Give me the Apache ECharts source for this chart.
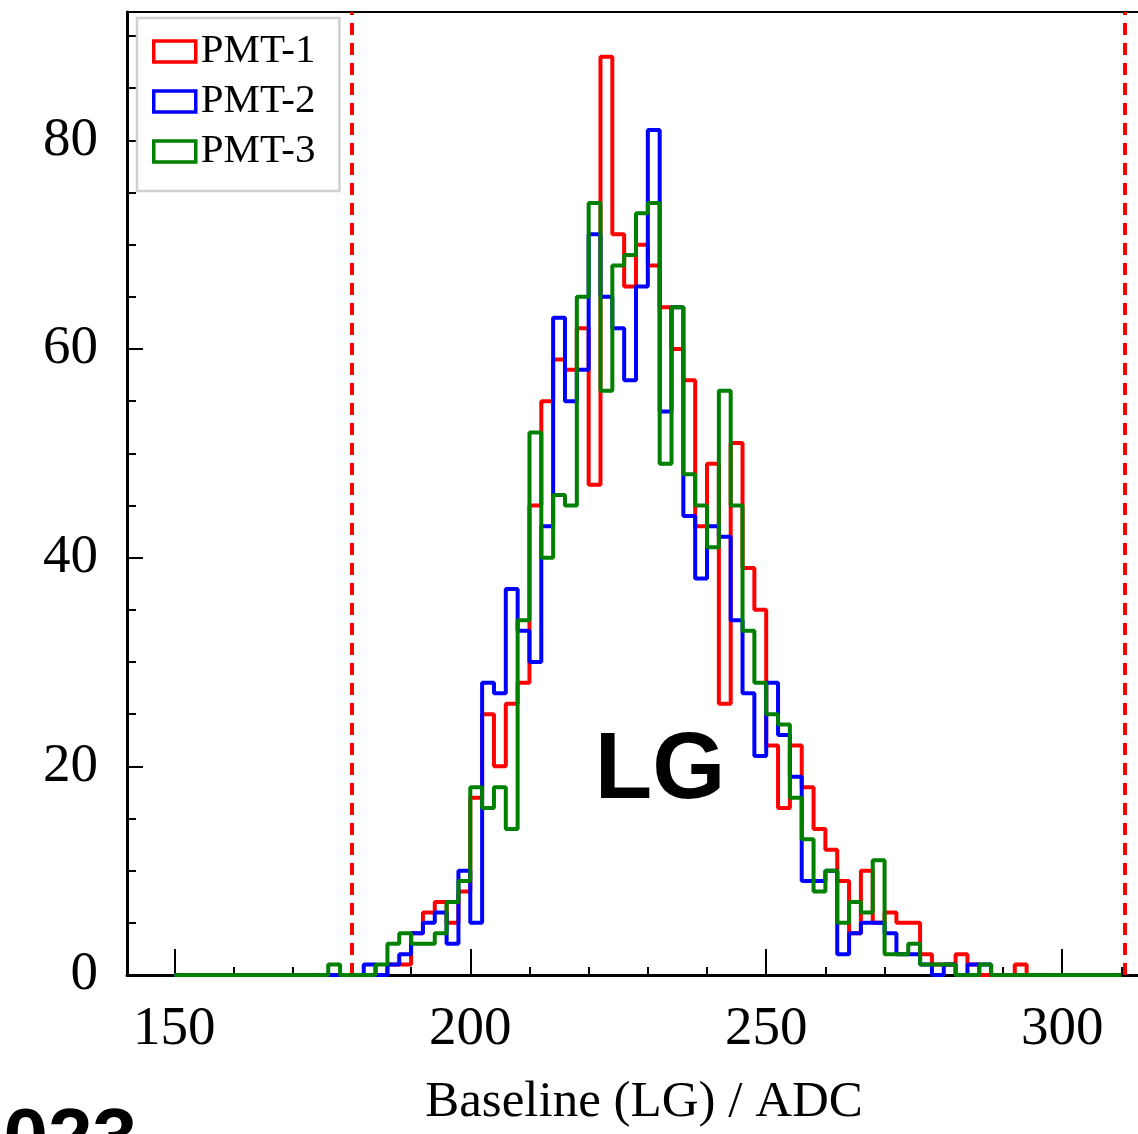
<!DOCTYPE html>
<html>
<head>
<meta charset="utf-8">
<script src="https://cdn.jsdelivr.net/npm/echarts@6/dist/echarts.min.js"></script>
<style>
html, body { margin: 0; padding: 0; background: #fff; }
#chart { width: 1138px; height: 1134px; }
</style>
</head>
<body>
<div id="chart"></div>
<script>
// histogram: 2 ADC wide bins, first listed bin starts at 176
var binWidth = 2
var firstBin = 176
var histRange = [150, 310]
var pmt1 = [0, 0, 0, 0, 0, 1, 1, 4, 6, 7, 5, 8, 17, 25, 20, 26, 28, 45, 55, 59,
  58, 62, 47, 88, 71, 66, 70, 68, 64, 60, 57, 43, 49, 26, 51, 39, 35, 22, 16, 22,
  18, 14, 12, 9, 4, 10, 5, 6, 5, 5, 2, 1, 1, 2, 1, 0, 0, 0, 1]
var pmt2 = [0, 0, 0, 1, 0, 1, 2, 4, 5, 6, 3, 10, 5, 28, 27, 37, 33, 30, 43, 63,
  55, 58, 71, 65, 62, 57, 66, 81, 54, 64, 44, 38, 43, 42, 34, 27, 21, 28, 23, 19,
  9, 9, 10, 2, 4, 5, 5, 4, 2, 2, 1, 0, 1, 0, 1, 1, 0, 0, 0]
var pmt3 = [1, 0, 0, 0, 1, 3, 4, 3, 3, 4, 7, 9, 18, 16, 18, 14, 34, 52, 40, 46,
  45, 65, 74, 56, 68, 69, 73, 74, 49, 64, 48, 45, 41, 56, 45, 33, 28, 25, 24, 17,
  13, 8, 10, 5, 7, 6, 11, 2, 2, 3, 1, 1, 1, 0, 0, 1, 0, 0, 0]
var seriesNames = ['PMT-1', 'PMT-2', 'PMT-3']
var seriesColors = ['#ff0000', '#0000ff', '#008000']
// cut lines (dashed red)
var cutLines = [180, 310.5]
// axis ticks
var xMajorTicks = [150, 200, 250, 300]
var xMinorTicks = [150, 160, 170, 180, 190, 200, 210, 220, 230, 240, 250, 260, 270, 280, 290, 300, 310]
var yMajorTicks = [0, 20, 40, 60, 80]
var yMinorTicks = [0, 5, 10, 15, 20, 25, 30, 35, 40, 45, 50, 55, 60, 65, 70, 75, 80, 85, 90]

var serif = 'Liberation Serif'

// 把计数转换成阶梯线的点
function stepData(counts) {
  var pts = [[histRange[0], 0]]
  for (var e = histRange[0]; e < histRange[1]; e += binWidth) {
    var i = (e - firstBin) / binWidth
    var v = (i >= 0 && i < counts.length) ? counts[i] : 0
    pts.push([e, v])
  }
  pts.push([histRange[1], 0])
  return pts
}

var chart = echarts.init(document.getElementById('chart'), null, { renderer: 'canvas' })

var allCounts = [pmt1, pmt2, pmt3]
var series = allCounts.map(function(c, k) {
  var s = {
    name: seriesNames[k],
    type: 'line',
    step: 'end',
    showSymbol: false,
    symbol: 'none',
    data: stepData(c),
    lineStyle: { color: seriesColors[k], width: 4 },
    itemStyle: { color: seriesColors[k] },
    z: 3 + k
  }
  if (k === 0) {
    s.markLine = {
      silent: true,
      symbol: ['none', 'none'],
      label: { show: false },
      lineStyle: { color: '#ff0000', type: [12, 8], width: 4 },
      emphasis: { disabled: true },
      data: cutLines.map(function(x) { return { xAxis: x, lineStyle: { color: '#ff0000', type: [12, 8], width: 4 } } })
    }
  }
  return s
})

var option = {
  animation: false,
  backgroundColor: '#fff',
  grid: {
    left: 127,
    top: 12,
    right: -7,
    bottom: 159,
    containLabel: false,
    outerBoundsMode: 'none',
    show: true,
    borderColor: '#000',
    borderWidth: 2,
    backgroundColor: 'transparent'
  },
  legend: {
    orient: 'vertical',
    left: 137,
    top: 18,
    icon: 'rect',
    itemWidth: 42,
    itemHeight: 21,
    itemGap: 9,
    padding: [13, 24, 19, 15],
    backgroundColor: '#fff',
    borderColor: '#cfcfcf',
    borderWidth: 2.5,
    borderRadius: 0,
    textStyle: { fontFamily: serif, fontSize: 41, color: '#000' },
    data: seriesNames.map(function(n, k) {
      return { name: n, itemStyle: { color: '#fff', borderColor: seriesColors[k], borderWidth: 3.5 } }
    })
  },
  xAxis: [
    {
      type: 'value',
      min: 142,
      max: 314,
      position: 'bottom',
      splitLine: { show: false },
      axisLine: { show: true, onZero: false, lineStyle: { color: '#000', width: 3 } },
      axisTick: { show: true, inside: true, length: 26, customValues: xMajorTicks, lineStyle: { color: '#000', width: 2 } },
      axisLabel: { customValues: xMajorTicks, margin: 27, fontFamily: serif, fontSize: 55, color: '#000' }
    },
    {
      type: 'value',
      min: 142,
      max: 314,
      position: 'bottom',
      splitLine: { show: false },
      axisLine: { show: false },
      axisTick: { show: true, inside: true, length: 8, customValues: xMinorTicks, lineStyle: { color: '#000', width: 2 } },
      axisLabel: { show: false }
    }
  ],
  yAxis: [
    {
      type: 'value',
      min: 0,
      max: 92.3,
      position: 'left',
      splitLine: { show: false },
      axisLine: { show: true, lineStyle: { color: '#000', width: 3 } },
      axisTick: { show: true, inside: true, length: 16, customValues: yMajorTicks, lineStyle: { color: '#000', width: 2 } },
      axisLabel: { customValues: yMajorTicks, margin: 29, fontFamily: serif, fontSize: 55, color: '#000' }
    },
    {
      type: 'value',
      min: 0,
      max: 92.3,
      position: 'left',
      offset: 0,
      splitLine: { show: false },
      axisLine: { show: false },
      axisTick: { show: true, inside: true, length: 9, customValues: yMinorTicks, lineStyle: { color: '#000', width: 2 } },
      axisLabel: { show: false }
    }
  ],
  graphic: [
    {
      type: 'text',
      z: 10,
      style: {
        text: 'Baseline (LG) / ADC',
        x: 644,
        y: 1103,
        align: 'center',
        verticalAlign: 'middle',
        font: '51px "Liberation Serif"',
        fill: '#000'
      }
    },
    {
      type: 'text',
      z: 10,
      style: {
        text: 'LG',
        x: 660,
        y: 772,
        align: 'center',
        verticalAlign: 'middle',
        font: 'bold 94px "Liberation Sans"',
        fill: '#000'
      }
    },
    {
      type: 'text',
      z: 10,
      style: {
        text: '2023',
        x: 137,
        y: 1142,
        align: 'right',
        verticalAlign: 'middle',
        font: 'bold 80px "Liberation Sans"',
        fill: '#000'
      }
    }
  ],
  series: series
}

chart.setOption(option)
</script>
</body>
</html>
